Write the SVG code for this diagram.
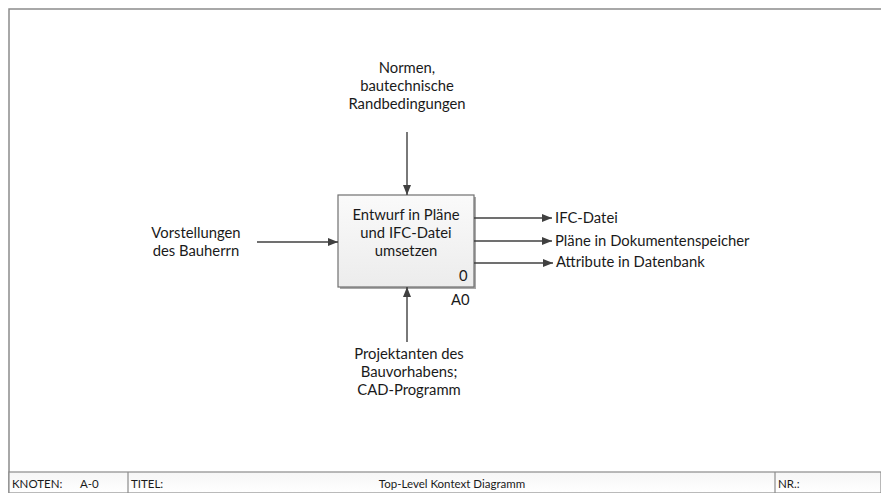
<svg xmlns="http://www.w3.org/2000/svg" width="881" height="493" viewBox="0 0 881 493">
  <style>
    .lbl { font-family: Lato, "Open Sans", "Liberation Sans", sans-serif; font-size: 14.8px; fill: #1a1a1a; }
    .mid { text-anchor: middle; }
    .foot { font-family: Lato, "Liberation Sans", sans-serif; font-size: 11.5px; fill: #1a1a1a; }
    .wire { stroke: #404040; stroke-width: 1.4; fill: none; marker-end: url(#head); }
    .frame { stroke: #8c8c8c; stroke-width: 1.5; fill: none; }
  </style>
  <defs>
    <marker id="head" viewBox="0 0 10 8" refX="10" refY="4" markerWidth="10" markerHeight="8" markerUnits="userSpaceOnUse" orient="auto">
      <path d="M0,0 L10,4 L0,8 Z" fill="#404040"/>
    </marker>
    <linearGradient id="boxFill" x1="0" y1="0" x2="0" y2="1">
      <stop offset="0" stop-color="#fafafa"/>
      <stop offset="1" stop-color="#ececec"/>
    </linearGradient>
    <linearGradient id="barFill" x1="0" y1="0" x2="0" y2="1">
      <stop offset="0" stop-color="#f6f6f6"/>
      <stop offset="1" stop-color="#ffffff"/>
    </linearGradient>
  </defs>

  <rect width="881" height="493" fill="#ffffff"/>

  <!-- drawing frame -->
  <g id="frame">
    <path class="frame" d="M9,493 V9 H881"/>
    <rect x="9" y="472" width="872" height="21" fill="url(#barFill)" stroke="#8c8c8c" stroke-width="1.2"/>
    <line x1="128" y1="472" x2="128" y2="493" stroke="#8c8c8c" stroke-width="1.2"/>
    <line x1="775" y1="472" x2="775" y2="493" stroke="#8c8c8c" stroke-width="1.2"/>
    <text class="foot" x="12" y="488">KNOTEN:</text>
    <text class="foot" x="80" y="488">A-0</text>
    <text class="foot" x="131" y="488">TITEL:</text>
    <text class="foot mid" x="452" y="488">Top-Level Kontext Diagramm</text>
    <text class="foot" x="778" y="488">NR.:</text>
  </g>

  <!-- activity A0 -->
  <g id="activity-a0">
    <rect x="340" y="197" width="136" height="92" fill="#a8a8a8"/>
    <rect x="338" y="195" width="136" height="92" fill="url(#boxFill)" stroke="#707070" stroke-width="1.2"/>
    <text class="lbl mid" x="406" y="220">Entwurf in Pläne</text>
    <text class="lbl mid" x="406" y="238">und IFC-Datei</text>
    <text class="lbl mid" x="406" y="256">umsetzen</text>
    <text class="lbl" x="459" y="281">0</text>
    <text class="lbl" x="451" y="305">A0</text>
  </g>

  <!-- input -->
  <g id="input-vorstellungen">
    <text class="lbl mid" x="196" y="238">Vorstellungen</text>
    <text class="lbl mid" x="196" y="256">des Bauherrn</text>
  </g>

  <!-- control -->
  <g id="control-normen">
    <text class="lbl mid" x="407" y="73">Normen,</text>
    <text class="lbl mid" x="407" y="91">bautechnische</text>
    <text class="lbl mid" x="407" y="109">Randbedingungen</text>
  </g>

  <!-- mechanism -->
  <g id="mechanism-projektanten">
    <text class="lbl mid" x="409" y="359">Projektanten des</text>
    <text class="lbl mid" x="409" y="377">Bauvorhabens;</text>
    <text class="lbl mid" x="409" y="395">CAD-Programm</text>
  </g>

  <!-- outputs -->
  <g id="output-ifc">
    <text class="lbl" x="555" y="223">IFC-Datei</text>
  </g>
  <g id="output-plaene">
    <text class="lbl" x="555" y="246">Pläne in Dokumentenspeicher</text>
  </g>
  <g id="output-attribute">
    <text class="lbl" x="556" y="267">Attribute in Datenbank</text>
  </g>

  <!-- connectors -->
  <g id="connectors">
    <line class="wire" x1="257" y1="242" x2="338" y2="242"/>
    <line class="wire" x1="407" y1="132" x2="407" y2="195"/>
    <line class="wire" x1="407" y1="342" x2="407" y2="287"/>
    <line class="wire" x1="474" y1="218" x2="552" y2="218"/>
    <line class="wire" x1="474" y1="241" x2="552" y2="241"/>
    <line class="wire" x1="474" y1="263" x2="553" y2="263"/>
  </g>
</svg>
